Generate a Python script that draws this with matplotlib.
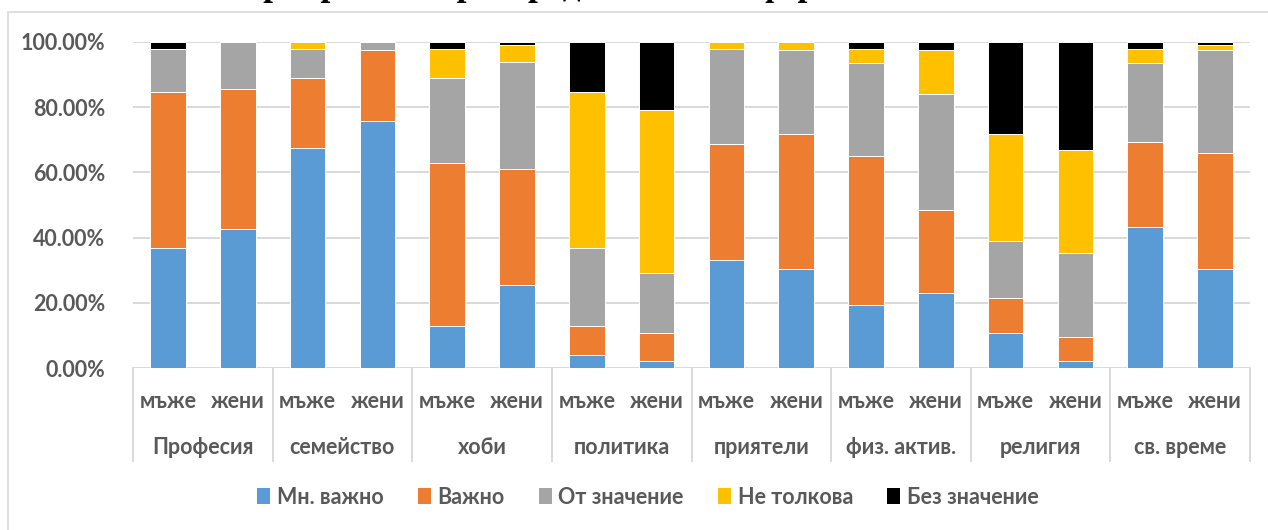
import matplotlib
matplotlib.use("Agg")
import matplotlib.pyplot as plt
from matplotlib.patches import Rectangle, Patch
import numpy as np

plt.rcParams["font.family"] = ["Lato", "DejaVu Sans"]
plt.rcParams["font.weight"] = "bold"

groups = ["Професия", "семейство", "хоби", "политика", "приятели",
          "физ. актив.", "религия", "св. време"]
sexes = ["мъже", "жени"]
series = ["Мн. важно", "Важно", "От значение", "Не толкова", "Без значение"]
colors = ["#5B9BD5", "#ED7D31", "#A5A5A5", "#FFC000", "#000000"]

# shares in %, bars ordered group by group: мъже, жени
mn_vazhno = [36.9, 42.6, 67.3, 75.6, 12.9, 25.4, 4.2, 2.2,
             33.2, 30.4, 19.4, 23.0, 10.7, 2.2, 43.4, 30.4]
vazhno = [47.8, 42.8, 21.7, 22.0, 50.1, 35.5, 8.7, 8.6,
          35.6, 41.4, 45.7, 25.6, 10.9, 7.3, 26.0, 35.4]
ot_znachenie = [13.1, 14.6, 8.7, 2.4, 26.0, 33.0, 23.8, 18.3,
                29.0, 25.8, 28.4, 35.5, 17.5, 25.7, 24.0, 31.8]
ne_tolkova = [0.0, 0.0, 2.3, 0.0, 8.8, 5.0, 48.0, 50.0,
              2.2, 2.4, 4.3, 13.5, 32.6, 31.7, 4.4, 1.3]
bez_znachenie = [2.2, 0.0, 0.0, 0.0, 2.2, 1.1, 15.3, 20.9,
                 0.0, 0.0, 2.2, 2.4, 28.3, 33.1, 2.2, 1.1]

values = [mn_vazhno, vazhno, ot_znachenie, ne_tolkova, bez_znachenie]

W, H = 1268, 530
fig = plt.figure(figsize=(W / 100, H / 100), dpi=100)
fig.patch.set_facecolor("white")

# outer chart border
fig.patches.append(Rectangle((8 / W, -0.2), 1.2, 1.2 - 12 / H,
                             transform=fig.transFigure, fill=False,
                             edgecolor="#D9D9D9", linewidth=1.2))

# title, mostly above the top edge
fig.text(642 / W, 1 + 5 / H, "приоритетно разпределение на сферите на живота",
         ha="center", va="baseline", family="Liberation Serif",
         fontsize=25.3, fontweight="bold", color="black")

ax = fig.add_axes([133 / W, 1 - 368.3 / H, (1250 - 133) / W, (368.3 - 41.7) / H])
x = np.arange(len(groups) * len(sexes))
bottom = np.zeros(len(x))
for name, vals, c in zip(series, values, colors):
    v = np.array(vals) / 100
    ax.bar(x, v, bottom=bottom, width=0.51, color=c, edgecolor="white",
           linewidth=0.7, label=name, zorder=3)
    bottom += v

ax.set_xlim(-0.5, len(x) - 0.5)
ax.set_ylim(0, 1)
ax.set_yticks(np.arange(0, 1.01, 0.2))
ax.set_yticklabels([f"{t * 100:.2f}%" for t in np.arange(0, 1.01, 0.2)])
ax.tick_params(axis="y", length=0, pad=20, labelsize=15.5, labelcolor="#595959")
ax.set_xticks([])
for s in ax.spines.values():
    s.set_visible(False)
ax.grid(axis="y", color="#D9D9D9", linewidth=1.4, zorder=0)
ax.set_axisbelow(True)

# two-level category axis
tr = ax.get_xaxis_transform()
for b in np.arange(-0.5, len(x), 2):
    ax.plot([b, b], [0, -0.284], transform=tr, color="#D9D9D9",
            linewidth=1.4, clip_on=False)
for i in x:
    ax.text(i, -0.102, sexes[i % 2], transform=tr, ha="center", va="center",
            fontsize=15.5, color="#595959")
for g, name in enumerate(groups):
    ax.text(2 * g + 0.5, -0.241, name, transform=tr, ha="center", va="center",
            fontsize=15.5, color="#595959")

handles = [Patch(facecolor=c, edgecolor="none") for c in colors]
leg = fig.legend(handles, series, loc="center", ncol=5,
                 bbox_to_anchor=(648 / W, 1 - 497 / H), frameon=False,
                 fontsize=15.5, handlelength=0.6, handleheight=0.75,
                 handletextpad=0.3, columnspacing=1.6)
for t in leg.get_texts():
    t.set_color("#595959")

fig.savefig("out.png", dpi=100)
